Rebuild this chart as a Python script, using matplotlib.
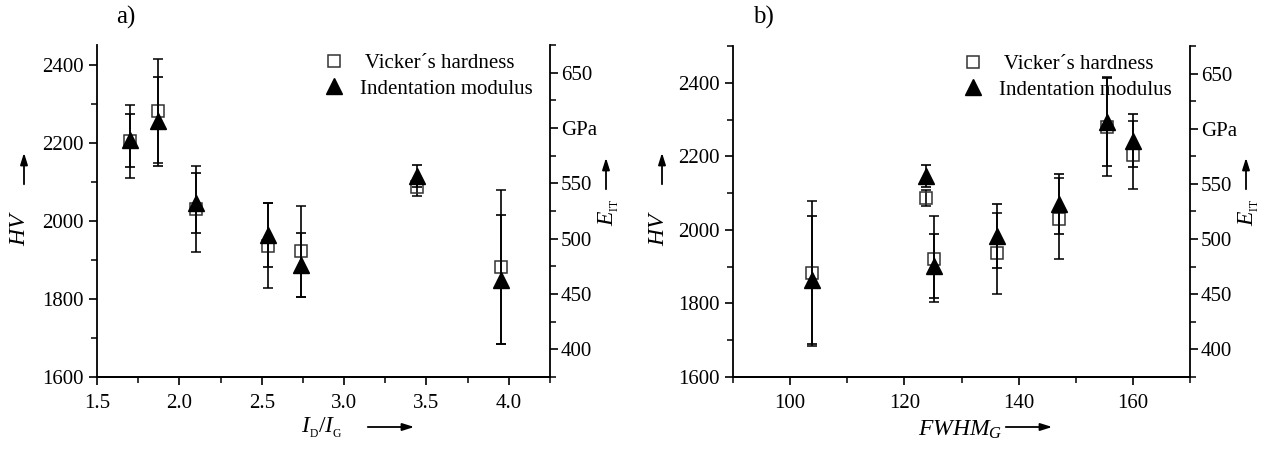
import numpy as np
import matplotlib
matplotlib.use('Agg')
import matplotlib.pyplot as plt
from matplotlib.ticker import MultipleLocator, FuncFormatter
from matplotlib.lines import Line2D

plt.rcParams['font.family'] = ['Liberation Serif', 'DejaVu Serif']
plt.rcParams['mathtext.fontset'] = 'custom'
plt.rcParams['mathtext.rm'] = 'Liberation Serif'
plt.rcParams['mathtext.it'] = 'Liberation Serif:italic'

# данные
id_ig = [1.70, 1.87, 2.10, 2.54, 2.74, 3.44, 3.95]
fwhm_g = [160.0, 155.4, 147.0, 136.3, 125.2, 123.7, 103.8]
hv = [2203, 2281, 2030, 1936, 1922, 2086, 1882]
hv_err = [93, 134, 110, 109, 117, 22, 197]
e_it = [589, 606, 532, 503, 476, 557, 463]
e_err = [24, 40, 27, 29, 29, 10, 58]

W, H = 1269, 450
FS = 15
fig = plt.figure(figsize=(W / 100, H / 100), dpi=100)


def px(x, y):
    # пиксели картинки (сверху вниз) -> доли фигуры
    return x / W, 1 - y / H


def arrow(x0, y0, x1, y1):
    fig.add_artist(matplotlib.patches.FancyArrowPatch(
        px(x0, y0), px(x1, y1), transform=fig.transFigure,
        arrowstyle='-|>,head_length=7,head_width=2.2', lw=1.3, color='k'))


def setup_panel(rect, xlim, ylim, xmaj, xmin_, ymaj, ymin_):
    ax = fig.add_axes(rect)
    ax2 = ax.twinx()
    ax.set_xlim(*xlim)
    ax.set_ylim(*ylim)
    ax2.set_ylim(375, 675)
    ax.xaxis.set_major_locator(MultipleLocator(xmaj))
    ax.xaxis.set_minor_locator(MultipleLocator(xmin_))
    ax.yaxis.set_major_locator(MultipleLocator(ymaj))
    ax.yaxis.set_minor_locator(MultipleLocator(ymin_))
    ax2.yaxis.set_major_locator(MultipleLocator(50))
    ax2.yaxis.set_minor_locator(MultipleLocator(25))
    ax2.yaxis.set_major_formatter(FuncFormatter(
        lambda v, p: 'GPa' if abs(v - 600) < 1 else f'{v:.0f}'))
    for a in (ax, ax2):
        a.spines['top'].set_visible(False)
        for s in a.spines.values():
            s.set_linewidth(1.3)
        a.tick_params(which='major', direction='out', length=6, width=1.2,
                      labelsize=FS)
        a.tick_params(which='minor', direction='out', length=4, width=1.1)
    ax.tick_params(axis='x', pad=6)
    ax2.tick_params(axis='y', pad=2)
    ax2.spines['left'].set_visible(False)
    ax.spines['right'].set_visible(False)
    return ax, ax2


def draw(ax, ax2, x, anchor):
    ax.errorbar(x, hv, yerr=hv_err, fmt='s', ms=9, mfc='none', mec='#333333',
                mew=1.1, ecolor='k', elinewidth=1.2, capsize=3.5, capthick=1.2)
    ax2.errorbar(x, e_it, yerr=e_err, fmt='^', ms=11, mfc='k', mec='k',
                 ecolor='k', elinewidth=1.2, capsize=3.5, capthick=1.2)
    handles = [
        Line2D([], [], ls='none', marker='s', ms=9, mfc='none', mec='#333333', mew=1.1),
        Line2D([], [], ls='none', marker='^', ms=11, mfc='k', mec='k'),
    ]
    ax2.legend(handles, [' Vicker\u00b4s hardness', 'Indentation modulus'],
               loc='upper right', bbox_to_anchor=anchor, frameon=False,
               fontsize=FS, handletextpad=0.75, labelspacing=0.3,
               borderaxespad=0, borderpad=0, handlelength=1.0)


# панель a)
rect_a = [97 / W, 1 - 377 / H, (550 - 97) / W, (377 - 45) / H]
ax, ax2 = setup_panel(rect_a, (1.5, 4.25), (1600, 2450), 0.5, 0.25, 200, 100)
draw(ax, ax2, id_ig, (0.962, 0.975))

# панель b)
rect_b = [733 / W, 1 - 377 / H, (1190 - 733) / W, (377 - 46) / H]
bx, bx2 = setup_panel(rect_b, (90, 170), (1600, 2500), 20, 10, 200, 100)
draw(bx, bx2, fwhm_g, (0.960, 0.975))

# подписи
fig.text(*px(126, 17), 'a)', fontsize=18, ha='center', va='center')
fig.text(*px(763, 17), 'b)', fontsize=18, ha='center', va='center')

for x0 in (20, 658):
    fig.text(*px(x0, 228), '$HV$', fontsize=17, rotation=90, ha='center', va='center')
    arrow(x0 + 4, 187, x0 + 4, 150)

for x0 in (609, 1249):
    fig.text(*px(x0, 212), r'$E_{_{\rm IT}}$', fontsize=17, rotation=90, ha='center', va='center')
    arrow(x0 - 3, 192, x0 - 3, 155)

fig.text(*px(322, 428), r'$I_{_{\rm D}}/I_{_{\rm G}}$', fontsize=17, ha='center', va='center')
arrow(365, 427, 417, 427)
fig.text(*px(960, 430), r'$FWHM_G$', fontsize=17, ha='center', va='center')
arrow(1003, 427, 1055, 427)

fig.savefig('out.png', dpi=100)
